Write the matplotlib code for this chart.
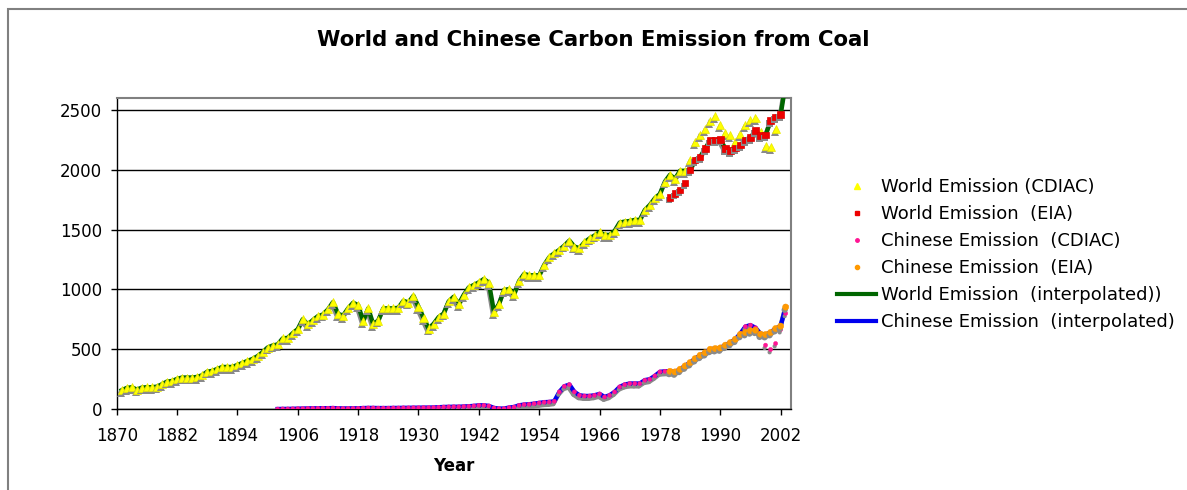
import matplotlib
matplotlib.use("Agg")
import matplotlib.pyplot as plt
import matplotlib.patheffects as pe
from matplotlib.lines import Line2D
from matplotlib.patches import Rectangle
import numpy as np

# Carbon emission from coal, million metric tons of carbon
world_cdiac_start = 1871
world_cdiac = [
    159, 178, 184, 164, 181, 184, 184, 189, 209, 231,        # 1871-1880
    236, 253, 265, 265, 265, 270, 284, 314, 320, 337,        # 1881-1890
    353, 353, 353, 370, 387, 404, 420, 443, 476, 515,        # 1891-1900
    532, 541, 591, 596, 635, 669, 752, 708, 744, 777,        # 1901-1910
    791, 833, 894, 797, 781, 842, 889, 869, 736, 842,        # 1911-1920
    711, 741, 842, 842, 842, 847, 905, 891, 947, 856,        # 1921-1930
    764, 674, 713, 769, 799, 900, 939, 878, 955, 1017,       # 1931-1940
    1037, 1059, 1087, 1056, 814, 878, 995, 1003, 959, 1070,  # 1941-1950
    1129, 1118, 1118, 1118, 1205, 1269, 1302, 1330, 1366, 1408,  # 1951-1960
    1358, 1344, 1394, 1425, 1450, 1478, 1455, 1455, 1489, 1558,  # 1961-1970
    1566, 1571, 1580, 1580, 1663, 1705, 1761, 1797, 1900, 1957,  # 1971-1980
    1923, 1990, 1990, 2082, 2230, 2291, 2338, 2408, 2444, 2374,  # 1981-1990
    2305, 2285, 2230, 2299, 2374, 2416, 2430, 2311, 2194, 2188,  # 1991-2000
    2338,                                                        # 2001
]

world_eia_start = 1980
world_eia = [
    1770, 1803, 1831, 1887, 1998, 2081, 2106, 2176, 2245, 2248,  # 1980-1989
    2253, 2176, 2157, 2179, 2204, 2248, 2268, 2324, 2282, 2288,  # 1990-1999
    2408, 2439, 2458,                                            # 2000-2002
]
world_2003 = 2720

china_cdiac_start = 1902
china_cdiac = [
    2, 3, 3, 4, 5, 6, 7, 8, 8,                   # 1902-1910
    9, 9, 10, 8, 7, 7, 8, 8, 10, 11,             # 1911-1920
    11, 10, 10, 10, 11, 11, 12, 12, 13, 13,      # 1921-1930
    14, 14, 15, 17, 19, 20, 21, 21, 23, 25,      # 1931-1940
    28, 33, 33, 28, 11, 6, 6, 14, 19, 33,        # 1941-1950
    39, 42, 47, 53, 59, 61, 67, 145, 192, 206,   # 1951-1960
    145, 117, 111, 111, 117, 128, 103, 117, 145, 187,  # 1961-1970
    206, 215, 215, 215, 243, 251, 279, 312, 317, 317,  # 1971-1980
    312, 334, 362, 390, 423, 451, 473, 501, 507, 512,  # 1981-1990
    535, 557, 585, 632, 690, 702, 680, 630, 535, 499,  # 1991-2000
    549, 665, 800,                                     # 2001-2003
]

china_eia_start = 1980
china_eia = [
    317, 312, 334, 362, 390, 423, 451, 473, 501, 507,  # 1980-1989
    512, 535, 557, 585, 625, 641, 655, 660, 627, 624,  # 1990-1999
    641, 674, 694, 853,                                # 2000-2003
]


def years(start, values):
    return np.arange(start, start + len(values))


wc_x = years(world_cdiac_start, world_cdiac)
we_x = years(world_eia_start, world_eia)
cc_x = years(china_cdiac_start, china_cdiac)
ce_x = years(china_eia_start, china_eia)

# interpolated series: CDIAC first, EIA afterwards
world_line = world_cdiac[: 1984 - world_cdiac_start] + world_eia[1984 - world_eia_start:] + [world_2003]
world_line_x = years(world_cdiac_start, world_line)
china_line = china_cdiac[: 1999 - china_cdiac_start] + china_eia[1999 - china_eia_start:]
china_line_x = years(china_cdiac_start, china_line)

W, H = 1187, 490
fig = plt.figure(figsize=(W / 100, H / 100), dpi=100)
ax = fig.add_axes([116.7 / W, 1 - 409.3 / H, (790.7 - 116.7) / W, (409.3 - 97.7) / H])

shadow_off = (-0.7, -2.0)
line_fx = [pe.SimpleLineShadow(offset=shadow_off, shadow_color="#8a8a8a", alpha=1), pe.Normal()]
mark_fx = [pe.withSimplePatchShadow(offset=shadow_off, shadow_rgbFace="#8a8a8a", alpha=1)]

ax.plot(world_line_x, world_line, color="#006600", lw=3.2, path_effects=line_fx, zorder=3)
ax.plot(china_line_x, china_line, color="#0000ee", lw=3.2, path_effects=line_fx, zorder=3)

ax.plot(wc_x, world_cdiac, ls="none", marker="^", ms=5.8, mfc="#ffff00", mec="#e6e600",
        mew=0.5, path_effects=mark_fx, zorder=4)
ax.plot(we_x, world_eia, ls="none", marker="s", ms=4.8, mfc="#ee0000", mec="#dd0000",
        mew=0.5, path_effects=mark_fx, zorder=4)
ax.plot(cc_x, china_cdiac, ls="none", marker="o", ms=3, mfc="#ff1493", mec="#ff1493",
        mew=0.3, path_effects=mark_fx, zorder=4)
ax.plot(ce_x, china_eia, ls="none", marker="o", ms=4.5, mfc="#ff9900", mec="#ff9900",
        mew=0.3, path_effects=mark_fx, zorder=5)

ax.set_xlim(1870, 2004)
ax.set_ylim(0, 2600)
ax.set_xticks(np.arange(1870, 2004, 12))
ax.set_yticks(np.arange(0, 2501, 500))
ax.yaxis.grid(True, color="black", lw=1)
ax.set_axisbelow(True)
ax.tick_params(axis="both", labelsize=12, direction="out", length=4.5, width=1, color="black")
ax.tick_params(axis="y", pad=6)
ax.tick_params(axis="x", pad=8)
for s in ("top", "right"):
    ax.spines[s].set_color("#808080")
    ax.spines[s].set_linewidth(1.5)
for s in ("left", "bottom"):
    ax.spines[s].set_color("black")
    ax.spines[s].set_linewidth(1)

fig.text(0.5, 1 - 40 / H, "World and Chinese Carbon Emission from Coal",
         ha="center", va="center", fontsize=15.3, fontweight="bold")
fig.text(453.7 / W, 1 - 466 / H, "Year", ha="center", va="center",
         fontsize=12, fontweight="bold")

handles = [
    Line2D([], [], ls="none", marker="^", ms=4, mfc="#ffff00", mec="#ffff00"),
    Line2D([], [], ls="none", marker="s", ms=3.5, mfc="#ee0000", mec="#ee0000"),
    Line2D([], [], ls="none", marker="o", ms=2.5, mfc="#ff1493", mec="#ff1493"),
    Line2D([], [], ls="none", marker="o", ms=3, mfc="#ff9900", mec="#ff9900"),
    Line2D([], [], color="#006600", lw=3),
    Line2D([], [], color="#0000ee", lw=3),
]
labels = [
    "World Emission (CDIAC)",
    "World Emission  (EIA)",
    "Chinese Emission  (CDIAC)",
    "Chinese Emission  (EIA)",
    "World Emission  (interpolated))",
    "Chinese Emission  (interpolated)",
]
fig.legend(handles, labels, loc="upper left", bbox_to_anchor=(836.7 / W, 1 - 178 / H),
           frameon=False, fontsize=13, handlelength=2.2, handletextpad=0.25,
           labelspacing=0.5, borderpad=0, borderaxespad=0)

# outer chart frame
fig.add_artist(Rectangle((7.5 / W, -0.1), 1.2, 1.1 - 9.5 / H, transform=fig.transFigure,
                         fill=False, edgecolor="#808080", lw=1.5, clip_on=False))

fig.savefig("out.png", dpi=100)
